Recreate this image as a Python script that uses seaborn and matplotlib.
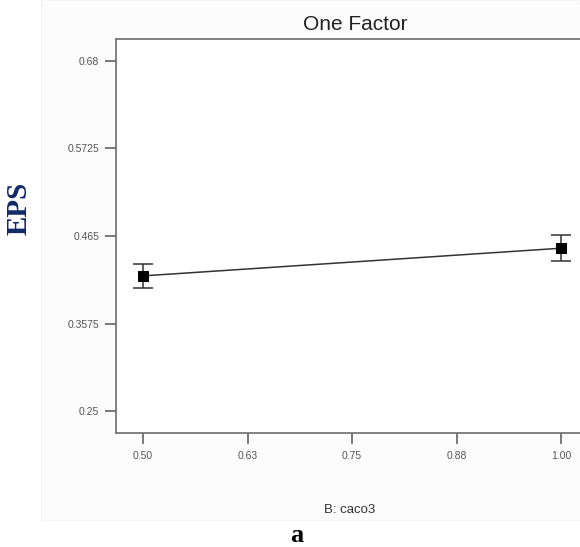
import matplotlib
matplotlib.use("Agg")
import matplotlib.pyplot as plt
import matplotlib.patches as mpatches
import seaborn as sns
import pandas as pd
import numpy as np

# ---- data ----
caco3 = [0.50, 1.00]
eps = [0.416, 0.450]
eps_err = [0.0147, 0.0158]
x_ticks = [0.50, 0.625, 0.75, 0.875, 1.00]
x_tick_labels = ["0.50", "0.63", "0.75", "0.88", "1.00"]
y_ticks = [0.25, 0.3575, 0.465, 0.5725, 0.68]
y_tick_labels = ["0.25", "0.3575", "0.465", "0.5725", "0.68"]

sns.set_theme(style="white")
plt.rcParams['font.family'] = ['Liberation Sans', 'DejaVu Sans']

W, H = 580, 547
fig = plt.figure(figsize=(W / 100, H / 100), dpi=100)
fig.patch.set_facecolor("white")

# faint gray panel behind the chart
bg = mpatches.Rectangle((41 / W, 1 - 520 / H), 1 - 41 / W, 520 / H,
                        transform=fig.transFigure, facecolor="#fcfcfc",
                        edgecolor="#f6f6f6", lw=0.8, zorder=-10)
fig.patches.append(bg)

ax = fig.add_axes([116 / W, 1 - 433 / H, 1 - 116 / W, (433 - 39) / H])
ax.set_zorder(1)
ax.set_facecolor("white")

df = pd.DataFrame({"caco3": caco3, "eps": eps})
sns.lineplot(data=df, x="caco3", y="eps", ax=ax, color="#333333", lw=1.1,
             marker="s", markersize=7, markerfacecolor="black",
             markeredgecolor="black", zorder=3)
ax.errorbar(caco3, eps, yerr=eps_err, fmt="none", ecolor="#333333",
            elinewidth=1.1, capsize=7, capthick=1.1, zorder=2)

ax.set_xlim(0.4677, 1.0227)
ax.set_ylim(0.223, 0.707)
ax.set_xticks(x_ticks)
ax.set_xticklabels(x_tick_labels)
ax.set_yticks(y_ticks)
ax.set_yticklabels(y_tick_labels)
ax.tick_params(axis="both", direction="out", length=8, width=1.1,
               color="#555555", labelcolor="#555555", labelsize=7.5, pad=4,
               bottom=True, left=True)
ax.tick_params(axis="x", pad=5)

for side in ["left", "bottom", "top"]:
    ax.spines[side].set_color("#777777")
    ax.spines[side].set_linewidth(1.3)
ax.spines["right"].set_visible(False)
ax.set_xlabel("")
ax.set_ylabel("")
ax.grid(False)

fig.text(355 / W, 1 - 25 / H, "One Factor", ha="center", va="center",
         fontsize=15, color="#222222")
fig.text(19 / W, 1 - 208 / H, "EPS", ha="center", va="center", rotation=90,
         fontsize=21, fontweight="bold", color="#0f2a66",
         family=["Liberation Serif", "DejaVu Serif"])
fig.text(350 / W, 1 - 510 / H, "B: caco3", ha="center", va="center",
         fontsize=9.5, color="#333333")
fig.text(297 / W, 1 - 536 / H, "a", ha="center", va="center",
         fontsize=19, fontweight="bold", color="black",
         family=["Liberation Serif", "DejaVu Serif"])

fig.savefig("out.png", dpi=100)
